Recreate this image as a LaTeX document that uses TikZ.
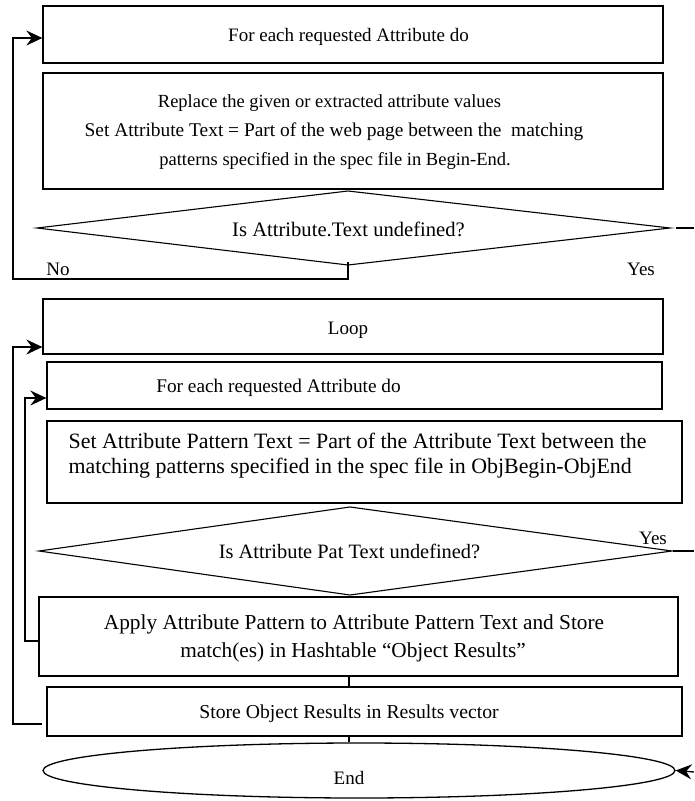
\documentclass[tikz,border=0pt]{standalone}
\usepackage{fontspec}
\setmainfont{Liberation Serif}
\usetikzlibrary{arrows.meta,shapes.geometric}
\newcommand{\fs}[1]{\fontsize{#1}{#1}\selectfont}
\begin{document}
\begin{tikzpicture}[x=1pt,y=-1pt, line width=1.3pt,
  box/.style={draw, rectangle, inner sep=0pt},
  txt/.style={inner sep=0pt, anchor=base, font=\fs{19}},
  arr/.style={-{Stealth[length=16pt,width=15pt,inset=5.5pt]}}]
\useasboundingbox (0,0) rectangle (694,801);
% boxes
\node[box, minimum width=620pt, minimum height=57pt] (b1) at (353,34.5) {};
\node[box, minimum width=620pt, minimum height=116pt] (b2) at (353,131) {};
\node[box, minimum width=620pt, minimum height=55pt] (loop) at (353,326.5) {};
\node[box, minimum width=615pt, minimum height=47pt] (fe2) at (354.5,385.5) {};
\node[box, minimum width=635pt, minimum height=82pt] (set) at (364.5,462) {};
\node[box, minimum width=639pt, minimum height=79pt] (apply) at (358.5,636.5) {};
\node[box, minimum width=635pt, minimum height=49pt] (store) at (364.5,711.5) {};
\node[draw, ellipse, inner sep=0pt, minimum width=632pt, minimum height=55pt] (end) at (359,770.5) {};
% diamonds
\coordinate (d1l) at (37,228);
\coordinate (d1t) at (348,191);
\coordinate (d1r) at (670,228);
\coordinate (d1b) at (348,265);
\draw[line width=1.1pt] (d1l) -- (d1t) -- (d1r) -- (d1b) -- cycle;
\coordinate (d2l) at (39,551);
\coordinate (d2t) at (350,507);
\coordinate (d2r) at (672,551);
\coordinate (d2b) at (350,595);
\draw[line width=1.1pt] (d2l) -- (d2t) -- (d2r) -- (d2b) -- cycle;
% texts
\node[txt] (t1) at (348.5,41) {For each requested Attribute do};
\node[txt, font=\fs{18.5}] (t2a) at (329.5,107) {Replace the given or extracted attribute values};
\node[txt, font=\fs{19.4}] (t2b) at (334,136) {Set Attribute Text = Part of the web page between the\ \ matching};
\node[txt, font=\fs{18.5}] (t2c) at (335,165) {patterns specified in the spec file in Begin-End.};
\node[txt, font=\fs{20.6}] (d1) at (348.5,236) {Is Attribute.Text undefined?};
\node[txt] (no1) at (58,275) {No};
\node[txt] (yes1) at (641,275) {Yes};
\node[txt] (tloop) at (348,334) {Loop};
\node[txt, font=\fs{19.3}] (tfe2) at (278.5,392) {For each requested Attribute do};
\node[txt, anchor=base west, font=\fs{21.9}] (tseta) at (68,448.5) {Set Attribute Pattern Text = Part of the Attribute Text between the};
\node[txt, anchor=base west, font=\fs{21.9}] (tsetb) at (68,473.5) {matching patterns specified in the spec file in ObjBegin-ObjEnd};
\node[txt, font=\fs{20.4}] (d2) at (349.5,558) {Is Attribute Pat Text undefined?};
\node[txt] (yes2) at (653,544) {Yes};
\node[txt, font=\fs{21.3}] (tapplya) at (354,629.5) {Apply Attribute Pattern to Attribute Pattern Text and Store};
\node[txt, font=\fs{21.3}] (tapplyb) at (353,657.5) {match(es) in Hashtable “Object Results”};
\node[txt, font=\fs{19.7}] (tstore) at (349,718) {Store Object Results in Results vector};
\node[txt] (tend) at (349,784) {End};
% connectors
\coordinate (n1) at (13,279);
\draw[arr] ([yshift=3pt]d1b) -- (d1b |- n1) -- (n1) |- ([yshift=-3.5pt]b1.west);
\coordinate (o1) at (13,724);
\draw[arr] ([xshift=-4pt,yshift=-12.5pt]store.west) -- (o1) |- ([yshift=-20.5pt]loop.west);
\coordinate (i1) at (25,641);
\draw[arr] ([yshift=-4.5pt]apply.west) -- (i1) |- ([yshift=-12.5pt]fe2.west);
\draw ([xshift=-9.5pt]apply.south) -- ([xshift=-9.5pt]apply.south |- store.north);
\draw ([xshift=-15.5pt]store.south) -- ([xshift=-15.5pt]store.south |- end.north);
\coordinate (e1) at (694,228);
\draw ([xshift=6pt]d1r) -- (e1);
\coordinate (e2) at (694,551);
\draw ([xshift=1pt]d2r) -- (e2);
\coordinate (e3) at (694,772);
\draw[arr] (e3) -- (end.east);
\end{tikzpicture}
\end{document}
